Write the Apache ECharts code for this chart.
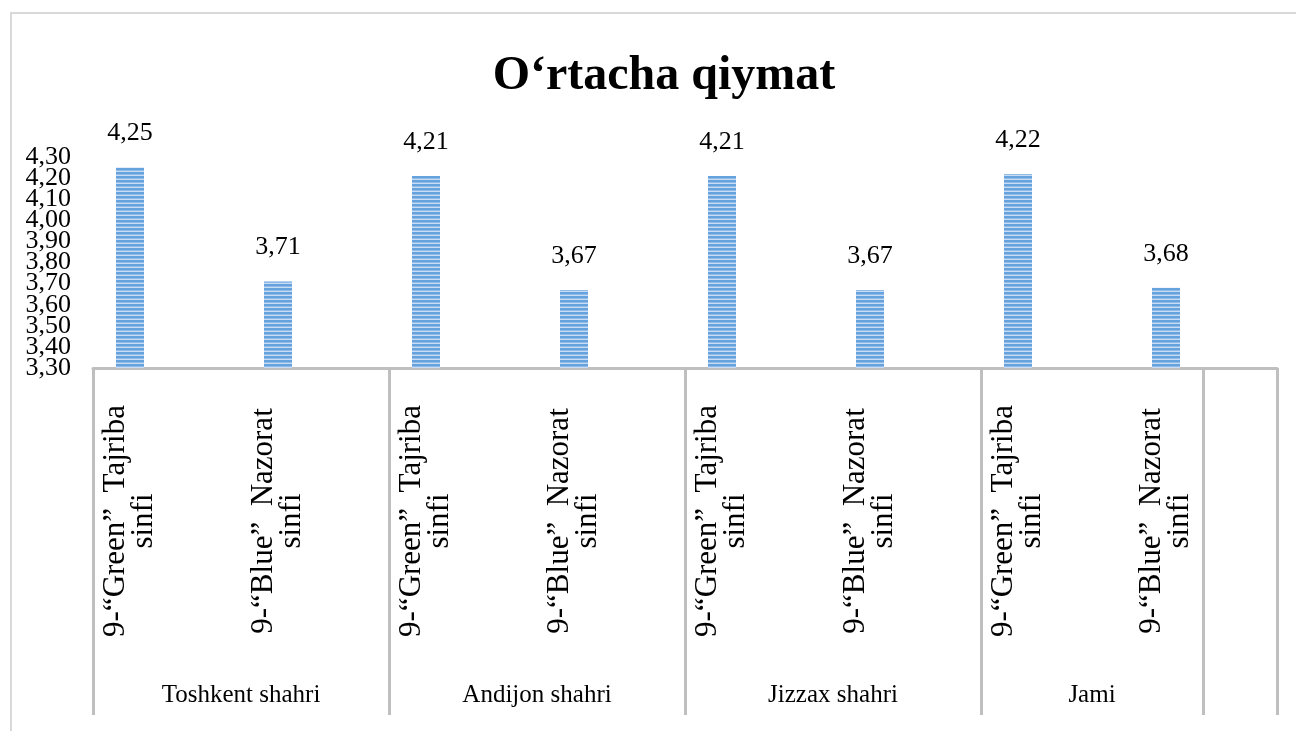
<!DOCTYPE html>
<html>
<head>
<meta charset="utf-8">
<title>O‘rtacha qiymat</title>
<script src="https://cdn.jsdelivr.net/npm/echarts@6.0.0/dist/echarts.min.js"></script>
<style>
  html, body { margin: 0; padding: 0; background: #fff; }
  #frame {
    position: absolute; left: 10px; top: 12px; width: 1300px; height: 720px;
    border-top: 2px solid #d9d9d9; border-left: 2px solid #d9d9d9;
  }
  #chart { position: absolute; left: 0; top: 0; width: 1296px; height: 731px; }
</style>
</head>
<body>
<div id="frame"></div>
<div id="chart"></div>
<script>
// chart data
const regions = ['Toshkent shahri', 'Andijon shahri', 'Jizzax shahri', 'Jami'];
const classes = ['9-“Green”  Tajriba\nsinfi', '9-“Blue”  Nazorat\nsinfi'];
const values = [4.25, 3.71, 4.21, 3.67, 4.21, 3.67, 4.22, 3.68];
const yTicks = [3.3, 3.4, 3.5, 3.6, 3.7, 3.8, 3.9, 4.0, 4.1, 4.2, 4.3];

// each class gets a slot followed by an empty one (like the original layout)
let slotLabels = [];
let slotValues = [];
regions.forEach(function (r, i) {
    classes.forEach(function (c, j) {
        slotLabels.push(c);
        slotValues.push(values[i * classes.length + j]);
        slotLabels.push('');
        slotValues.push(null);
    });
});

// group dividers and group label centres, in slot units
const dividers = [0, 4, 8, 12, 15, 16];
const groupCenters = [2, 6, 10, 13.5];

// the tick labels overlap, so they are split over two axes to keep them all
const yTicksA = yTicks.filter(function (v, i) { return i % 2 === 0; });
const yTicksB = yTicks.filter(function (v, i) { return i % 2 === 1; });

// striped fill for the bars
function stripes() {
    let c = document.createElement('canvas');
    c.width = 4;
    c.height = 4;
    let ctx = c.getContext('2d');
    ctx.fillStyle = '#c9dcf3';
    ctx.fillRect(0, 0, 4, 4);
    ctx.fillStyle = '#66a2de';
    ctx.fillRect(0, 0, 4, 2);
    ctx.fillStyle = '#8ebbe8';
    ctx.fillRect(0, 2, 4, 1);
    return c;
}

const serif = "'Liberation Serif', 'Times New Roman', serif";
const fmt = function (v) { return Number(v).toFixed(2).replace('.', ','); };

function yAxisWith(ticks) {
    return {
        type: 'value',
        position: 'left',
        min: yTicks[0],
        max: yTicks[yTicks.length - 1],
        interval: 0.1,
        axisLine: { show: false },
        axisTick: { show: false },
        splitLine: { show: false },
        axisLabel: {
            customValues: ticks,
            margin: 22,
            fontFamily: serif,
            fontSize: 26,
            color: '#000',
            formatter: fmt
        }
    };
}

let chart = echarts.init(document.getElementById('chart'));
chart.setOption({
    animation: false,
    title: {
        text: 'O‘rtacha qiymat',
        left: 659,
        top: 48,
        textAlign: 'center',
        textStyle: { fontFamily: serif, fontSize: 48, fontWeight: 'bold', color: '#000' }
    },
    grid: { left: 93, right: 19, top: 157, bottom: 363 },
    xAxis: [
        {
            type: 'category',
            data: slotLabels,
            axisLine: { lineStyle: { color: '#bfbfbf', width: 3 } },
            axisTick: { show: false },
            axisLabel: {
                interval: 0,
                rotate: 90,
                align: 'center',
                margin: 153,
                fontFamily: serif,
                fontSize: 31,
                lineHeight: 28,
                color: '#000'
            }
        },
        {
            type: 'value',
            min: 0,
            max: 16,
            position: 'bottom',
            axisLine: { show: false },
            splitLine: { show: false },
            axisTick: {
                show: true,
                customValues: dividers,
                length: 347,
                lineStyle: { color: '#bfbfbf', width: 3 }
            },
            axisLabel: {
                customValues: groupCenters,
                margin: 315,
                fontFamily: serif,
                fontSize: 25,
                color: '#000',
                formatter: function (v) { return regions[groupCenters.indexOf(v)]; }
            }
        }
    ],
    yAxis: [yAxisWith(yTicksA), yAxisWith(yTicksB)],
    series: [
        {
            type: 'bar',
            xAxisIndex: 0,
            yAxisIndex: 0,
            data: slotValues,
            barWidth: 28,
            itemStyle: { color: { image: stripes(), repeat: 'repeat' } },
            label: {
                show: true,
                position: 'top',
                distance: 21,
                fontFamily: serif,
                fontSize: 26,
                color: '#000',
                formatter: function (p) { return fmt(p.value); }
            }
        }
    ]
});
</script>
</body>
</html>
